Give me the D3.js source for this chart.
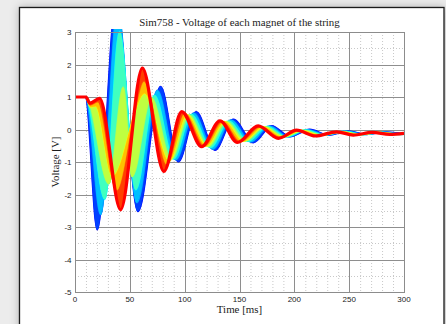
<!DOCTYPE html>
<html>
<head>
<meta charset="utf-8">
<script src="https://cdn.jsdelivr.net/npm/d3@7"></script>
<style>
  html, body { margin: 0; padding: 0; background: #ececec; }
  svg { display: block; }
</style>
</head>
<body>
<svg id="chart" width="446" height="324"></svg>
<script>
// extrema of each magnet voltage (ms, V); magnet 1 = blue, magnet 7 = red
const m1Time = [0, 9.5, 20.3, 37.5, 57.4, 78, 94.2, 110.5, 127.6, 144.4, 162.6, 179.3, 196, 214, 231, 249, 266, 283, 300];
const m1Volt = [1, 1, -3.08, 3.9, -2.52, 1.32, -0.99, 0.54, -0.63, 0.31, -0.40, 0.11, -0.22, 0.0, -0.17, -0.05, -0.15, -0.08, -0.13];

const m2Time = [0, 9.7, 23.4, 38.8, 56.4, 75.2, 92, 108.3, 125.6, 142.4, 160.2, 177.2, 194.2, 212, 229, 247.3, 264, 281, 297.8, 300];
const m2Volt = [1, 1, -2.62, 3.7, -2.25, 1.2, -0.93, 0.5, -0.6, 0.29, -0.38, 0.1, -0.22, -0.01, -0.17, -0.06, -0.15, -0.08, -0.14, -0.14];

const m3Time = [0, 9.9, 27.2, 40.6, 55.4, 72.5, 89.8, 106.1, 123.6, 140.3, 157.7, 175.2, 192.5, 210, 227, 245.5, 261.9, 279, 295.7, 300];
const m3Volt = [1, 1, -2.14, 3.0, -1.85, 1.05, -0.9, 0.46, -0.55, 0.26, -0.36, 0.09, -0.22, -0.02, -0.17, -0.06, -0.16, -0.09, -0.15, -0.14];

const m4Time = [0, 10, 30.8, 44, 52, 69.7, 87.6, 103.9, 121.5, 138.3, 155.3, 173.1, 190.7, 208, 225, 243.8, 259.9, 277, 293.5, 300];
const m4Volt = [1, 1, -1.67, 1.3, -1.45, 0.98, -0.92, 0.44, -0.52, 0.24, -0.35, 0.08, -0.22, -0.03, -0.17, -0.07, -0.16, -0.09, -0.15, -0.13];

const m5Time = [0, 10, 14, 19, 34.4, 63.5, 85.4, 101.7, 119.5, 136.3, 152.9, 171.1, 188.9, 206, 223, 242.1, 257.9, 275, 291.3, 300];
const m5Volt = [1, 1, 0.7, 0.72, -1.45, 1.12, -0.98, 0.45, -0.5, 0.24, -0.36, 0.08, -0.23, -0.03, -0.18, -0.07, -0.16, -0.09, -0.14, -0.12];

const m6Time = [0, 10, 13.8, 21, 38.3, 63, 83.2, 99.5, 117.5, 134.2, 150.4, 169, 187.2, 204, 221, 240.3, 255.8, 273, 289.2, 300];
const m6Volt = [1, 1, 0.76, 0.86, -1.9, 1.5, -1.1, 0.5, -0.51, 0.25, -0.38, 0.09, -0.25, -0.03, -0.19, -0.07, -0.17, -0.09, -0.15, -0.12];

const m7Time = [0, 10, 13.5, 22.5, 41.6, 61.4, 81, 97.3, 115.5, 132.2, 148, 167, 185.4, 202, 219, 238.6, 253.8, 271, 287, 300];
const m7Volt = [1, 1, 0.81, 0.96, -2.47, 1.89, -1.29, 0.55, -0.53, 0.27, -0.40, 0.11, -0.27, -0.02, -0.20, -0.07, -0.17, -0.09, -0.15, -0.12];

const xTicks = [0, 50, 100, 150, 200, 250, 300];
const yTicks = [-5, -4, -3, -2, -1, 0, 1, 2, 3];

const magnets = [
  [m1Time, m1Volt], [m2Time, m2Volt], [m3Time, m3Volt], [m4Time, m4Volt],
  [m5Time, m5Volt], [m6Time, m6Volt], [m7Time, m7Volt]
].map(([t, v]) => t.map((d, i) => [d, v[i]]));

const svg = d3.select('#chart');

// white figure frame with a soft shadow
const defs = svg.append('defs');
const shadow = defs.append('filter').attr('id', 'shadow')
  .attr('x', '-10%').attr('y', '-10%').attr('width', '120%').attr('height', '120%');
shadow.append('feDropShadow').attr('dx', 0).attr('dy', 0).attr('stdDeviation', 4)
  .attr('flood-color', '#000').attr('flood-opacity', 0.25);

svg.append('rect')
  .attr('x', 19.5).attr('y', 7.5).attr('width', 424.5).attr('height', 340)
  .attr('fill', '#fff').attr('stroke', '#1a1a1a').attr('stroke-width', 1.3)
  .attr('filter', 'url(#shadow)');

const pLeft = 75, pRight = 404, pTop = 32, pBottom = 292;

const x = d3.scaleLinear().domain([0, 300]).range([pLeft, pRight]);
const y = d3.scaleLinear().domain([-5, 3]).range([pBottom, pTop]);

// grid: dotted minor, solid major
const grid = svg.append('g');
grid.selectAll('line.xminor')
  .data(d3.range(0, 301, 10).filter(d => d % 50 !== 0))
  .enter().append('line')
  .attr('x1', d => x(d) + 0.5).attr('x2', d => x(d) + 0.5)
  .attr('y1', pTop).attr('y2', pBottom)
  .attr('stroke', '#c8c8c8').attr('stroke-width', 1).attr('stroke-dasharray', '1,2');
grid.selectAll('line.yminor')
  .data(d3.range(-4.5, 3, 1))
  .enter().append('line')
  .attr('x1', pLeft).attr('x2', pRight)
  .attr('y1', d => Math.round(y(d)) + 0.5).attr('y2', d => Math.round(y(d)) + 0.5)
  .attr('stroke', '#c8c8c8').attr('stroke-width', 1).attr('stroke-dasharray', '1,2');
grid.selectAll('line.xmajor')
  .data(xTicks)
  .enter().append('line')
  .attr('x1', d => Math.round(x(d)) + 0.5).attr('x2', d => Math.round(x(d)) + 0.5)
  .attr('y1', pTop).attr('y2', pBottom)
  .attr('stroke', '#8e8e8e').attr('stroke-width', 1);
grid.selectAll('line.ymajor')
  .data(yTicks)
  .enter().append('line')
  .attr('x1', pLeft).attr('x2', pRight)
  .attr('y1', d => Math.round(y(d)) + 0.5).attr('y2', d => Math.round(y(d)) + 0.5)
  .attr('stroke', '#8e8e8e').attr('stroke-width', 1);

// jet-like colour ramp from first to last magnet
const ramp = d3.scaleLinear()
  .domain([0, 1 / 3, 2 / 3, 1])
  .range(['#0000ff', '#00ffff', '#ffff00', '#ff0000']);

defs.append('clipPath').attr('id', 'plotclip')
  .append('rect').attr('x', pLeft).attr('y', pTop - 3)
  .attr('width', pRight - pLeft).attr('height', pBottom - pTop + 3);

const lineGen = d3.line()
  .x(d => x(d[0])).y(d => y(d[1]))
  .curve(d3.curveMonotoneX);

const plot = svg.append('g').attr('clip-path', 'url(#plotclip)');
const n = magnets.length;

magnets.forEach((m, i) => {
  if (i > 0) {
    // band swept by the magnets lying between two neighbours
    const a = lineGen(magnets[i - 1]);
    const b = lineGen(m.slice().reverse());
    plot.append('path')
      .attr('d', a + 'L' + b.slice(1) + 'Z')
      .attr('fill', ramp((i - 0.5) / (n - 1)))
      .attr('stroke', ramp((i - 0.5) / (n - 1)))
      .attr('stroke-width', 0.8);
  }
  plot.append('path')
    .attr('d', lineGen(m))
    .attr('fill', 'none')
    .attr('stroke', ramp(i / (n - 1)))
    .attr('stroke-width', i === n - 1 ? 3.2 : 1.8)
    .attr('stroke-linejoin', 'round');
});

// axes box
svg.append('rect')
  .attr('x', pLeft + 0.5).attr('y', pTop + 0.5)
  .attr('width', pRight - pLeft).attr('height', pBottom - pTop)
  .attr('fill', 'none').attr('stroke', '#8c8c8c').attr('stroke-width', 1);

// tick labels
svg.append('g').selectAll('text')
  .data(xTicks)
  .enter().append('text')
  .attr('x', d => x(d)).attr('y', pBottom + 10)
  .attr('text-anchor', 'middle')
  .attr('font-family', 'Liberation Sans, Arial, sans-serif')
  .attr('font-size', 8).attr('fill', '#222')
  .text(d => d);

svg.append('g').selectAll('text')
  .data(yTicks)
  .enter().append('text')
  .attr('x', pLeft - 3.5).attr('y', d => y(d) + 3)
  .attr('text-anchor', 'end')
  .attr('font-family', 'Liberation Sans, Arial, sans-serif')
  .attr('font-size', 8).attr('fill', '#222')
  .text(d => d);

svg.append('text')
  .attr('x', (pLeft + pRight) / 2).attr('y', 25.5)
  .attr('text-anchor', 'middle')
  .attr('font-family', 'Liberation Serif, Times New Roman, serif')
  .attr('font-size', 10.9).attr('fill', '#1a1a1a')
  .text('Sim758 - Voltage of each magnet of the string');

svg.append('text')
  .attr('x', (pLeft + pRight) / 2).attr('y', 313)
  .attr('text-anchor', 'middle')
  .attr('font-family', 'Liberation Serif, Times New Roman, serif')
  .attr('font-size', 10.9).attr('fill', '#1a1a1a')
  .text('Time [ms]');

svg.append('text')
  .attr('transform', 'translate(59,' + y(-1) + ') rotate(-90)')
  .attr('text-anchor', 'middle')
  .attr('font-family', 'Liberation Serif, Times New Roman, serif')
  .attr('font-size', 10.9).attr('fill', '#1a1a1a')
  .text('Voltage [V]');
</script>
</body>
</html>
